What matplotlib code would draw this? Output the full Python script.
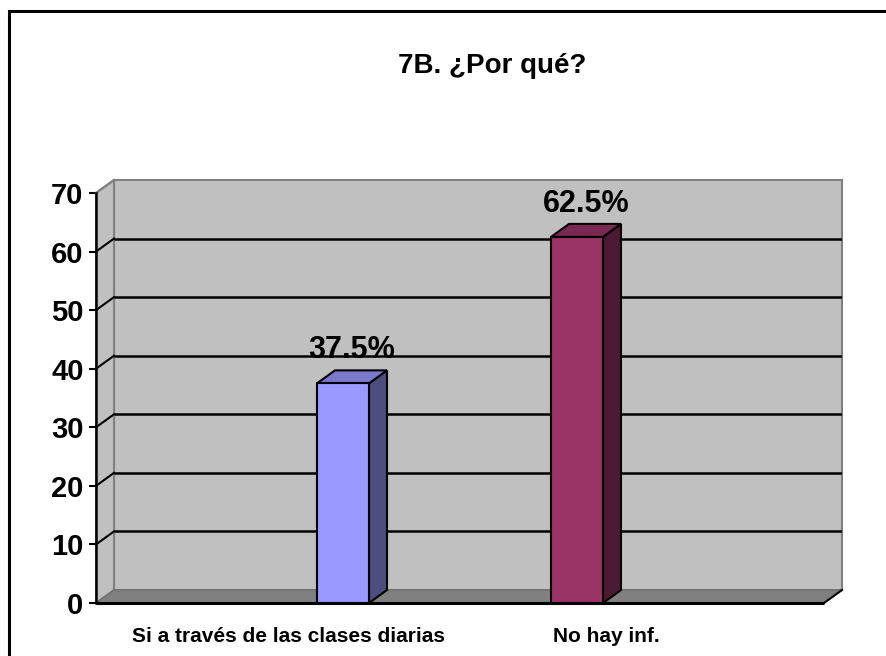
import matplotlib
matplotlib.use("Agg")
import matplotlib.pyplot as plt
from matplotlib.patches import Polygon, Rectangle

categories = ["Si a través de las clases diarias", "No hay inf."]
values = [37.5, 62.5]
value_labels = ["37.5%", "62.5%"]
front_colors = ["#9999FF", "#993366"]
side_colors = ["#4D4D80", "#4D1A33"]
top_colors = ["#7A7ACC", "#7A2952"]
yticks = [0, 10, 20, 30, 40, 50, 60, 70]
title = "7B. ¿Por qué?"

plt.rcParams['font.family'] = ['Liberation Sans', 'DejaVu Sans']

W, H = 886, 656
fig = plt.figure(figsize=(W / 100, H / 100), dpi=100)

# outer border of chart area
fig.patches.append(Rectangle((9 / W, -0.05), 1.1, (H - 10.5) / H + 0.05,
                             transform=fig.transFigure, fill=False,
                             edgecolor="black", linewidth=2.2, zorder=0))

# axes geometry (pixels)
ax_left, ax_right = 96, 842
ax_bottom, ax_top = 603, 181
ax = fig.add_axes([ax_left / W, (H - ax_bottom) / H,
                   (ax_right - ax_left) / W, (ax_bottom - ax_top) / H])

px_per_y = 410 / 70.0
px_per_x = 234.0
ymax = (ax_bottom - ax_top) / px_per_y
xmin = -(343 - ax_left) / px_per_x
xmax = (ax_right - 343) / px_per_x
ax.set_xlim(xmin, xmax)
ax.set_ylim(0, ymax)
dx = 18 / px_per_x
dy = 13 / px_per_y
front_right = xmax - dx
top_val = yticks[-1]
bw = 52 / px_per_x

wall = "#C0C0C0"
edge = "#808080"
# back wall
ax.add_patch(Polygon([(xmin + dx, dy), (xmax, dy), (xmax, top_val + dy), (xmin + dx, top_val + dy)],
                     closed=True, facecolor=wall, edgecolor=edge, linewidth=1.5, zorder=1,
                     clip_on=False))
# left side wall
ax.add_patch(Polygon([(xmin, 0), (xmin + dx, dy), (xmin + dx, top_val + dy), (xmin, top_val)],
                     closed=True, facecolor=wall, edgecolor=edge, linewidth=1.5, zorder=1,
                     clip_on=False))
# gridlines
for v in yticks[1:-1]:
    ax.plot([xmin + dx, xmax], [v + dy, v + dy], color="black", linewidth=1.8, zorder=2,
            solid_capstyle="butt")
    ax.plot([xmin, xmin + dx], [v, v + dy], color="black", linewidth=1.5, zorder=2)
ax.plot([xmin, xmin + dx], [top_val, top_val + dy], color=edge, linewidth=1.5, zorder=2,
        clip_on=False)
# floor
ax.add_patch(Polygon([(xmin, 0), (front_right, 0), (xmax, dy), (xmin + dx, dy)],
                     closed=True, facecolor="#808080", edgecolor="#707070", linewidth=1.0, zorder=3,
                     clip_on=False))
ax.plot([xmin, front_right], [0, 0], color="black", linewidth=2.2, zorder=3,
        solid_capstyle="butt", clip_on=False)
ax.plot([front_right, xmax], [0, dy], color="black", linewidth=1.5, zorder=3, clip_on=False)

# bars
xs = list(range(len(categories)))
ax.bar(xs, values, width=bw, color=front_colors, edgecolor="black", linewidth=1.5, zorder=5)
for i, v in enumerate(values):
    x0, x1 = i - bw / 2, i + bw / 2
    ax.add_patch(Polygon([(x1, 0), (x1 + dx, dy), (x1 + dx, v + dy), (x1, v)], closed=True,
                         facecolor=side_colors[i], edgecolor="black", linewidth=1.5, zorder=4))
    ax.add_patch(Polygon([(x0, v), (x1, v), (x1 + dx, v + dy), (x0 + dx, v + dy)], closed=True,
                         facecolor=top_colors[i], edgecolor="black", linewidth=1.5, zorder=4))
    ax.text(i + dx / 2, v + dy + 20 / px_per_y, value_labels[i], ha="center", va="center",
            fontsize=22, fontweight="bold", zorder=6)

# axes styling
for s in ["top", "right", "bottom"]:
    ax.spines[s].set_visible(False)
ax.spines["left"].set_bounds(0, top_val)
ax.spines["left"].set_linewidth(1.8)
ax.spines["left"].set_zorder(6)
ax.set_yticks(yticks)
ax.set_yticklabels([str(t) for t in yticks], fontsize=21, fontweight="bold")
ax.tick_params(axis="y", direction="out", length=5, width=1.5, pad=4)
label_offsets = [-0.231, 0.124]
ax.set_xticks([i + o for i, o in zip(xs, label_offsets)])
ax.set_xticklabels(categories, fontsize=15, fontweight="bold")
ax.tick_params(axis="x", length=0, pad=17)
ax.patch.set_visible(False)

fig.text(492 / W, 1 - 66 / H, title, ha="center", va="center", fontsize=20, fontweight="bold")

fig.savefig("out.png", dpi=100, facecolor="white")
